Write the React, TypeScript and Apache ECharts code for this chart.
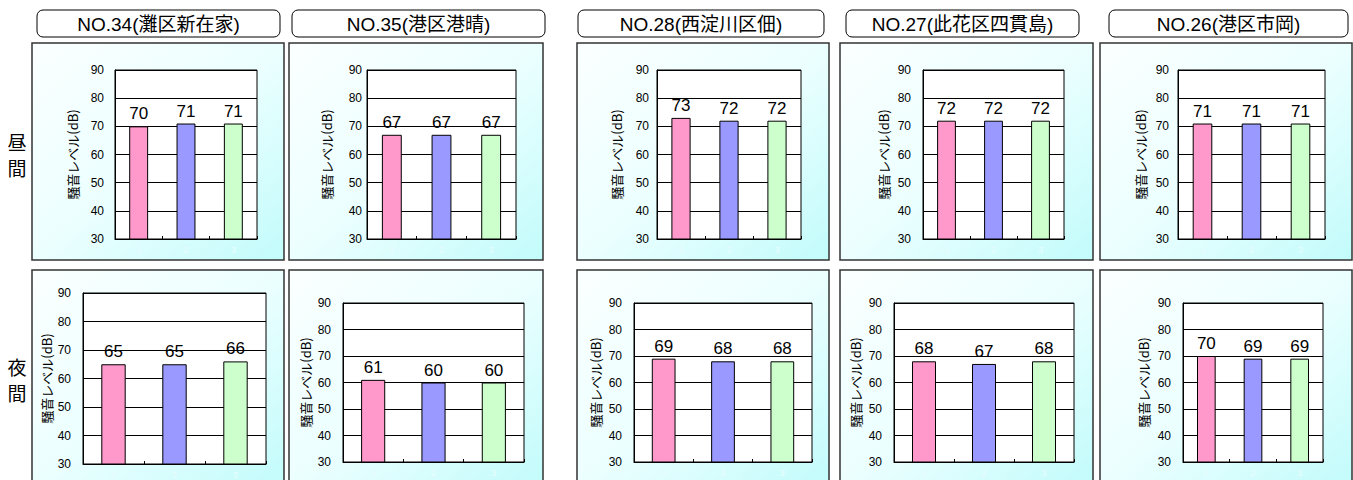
import React, { useEffect, useRef } from "react";
import * as echarts from "echarts";

// ---- data ----
const stations = [
  "NO.34(灘区新在家)",
  "NO.35(港区港晴)",
  "NO.28(西淀川区佃)",
  "NO.27(此花区四貫島)",
  "NO.26(港区市岡)",
];
const categories = ["1", "2", "3"];
const dayValues = [
  [70, 71, 71],
  [67, 67, 67],
  [73, 72, 72],
  [72, 72, 72],
  [71, 71, 71],
];
const nightValues = [
  [65, 65, 66],
  [61, 60, 60],
  [69, 68, 68],
  [68, 67, 68],
  [70, 69, 69],
];
const rowLabels = [
  ["昼", "間"],
  ["夜", "間"],
];
const axisName = "騒音レベル(dB)";
const yMin = 30;
const yMax = 90;
const yInterval = 10;

// ---- layout / style ----
const barColors = ["#FF99CC", "#9999FF", "#CCFFCC"];
const frameX = [
  [32, 284],
  [289, 543],
  [577, 829],
  [840, 1093],
  [1100, 1352],
];
const titleX = [
  [37, 280],
  [292, 545],
  [578, 824],
  [846, 1079],
  [1109, 1348],
];
// [left, right, top, bottom]
const dayPlots = [
  [115, 257, 70, 239],
  [367, 516, 70, 239],
  [657, 801, 70, 239],
  [923, 1064, 70, 239],
  [1178, 1325, 70, 239],
];
const nightPlots = [
  [83, 266, 293, 464],
  [343, 524, 303, 462],
  [634, 812, 303, 462],
  [894, 1074, 303, 462],
  [1183, 1323, 303, 462],
];
const dayLabelMargin = [11, 5, 8, 12, 9];
const nightLabelMargin = [12, 12, 12, 12, 12];
const dayNameGap = [36, 34, 34, 33, 31];
const nightNameGap = [30, 31, 32, 32, 33];
const rowLabelY = [
  [141, 167],
  [366, 392],
];

const latin = "'Liberation Sans', Arial, 'Noto Sans CJK JP', sans-serif";
const cjk = "'Noto Sans CJK JP', 'Liberation Sans', sans-serif";

function buildOption() {
  const grid: any[] = [];
  const xAxis: any[] = [];
  const yAxis: any[] = [];
  const series: any[] = [];
  const rows = [
    { plots: dayPlots, values: dayValues, margins: dayLabelMargin, gaps: dayNameGap },
    { plots: nightPlots, values: nightValues, margins: nightLabelMargin, gaps: nightNameGap },
  ];
  rows.forEach((row) => {
    row.plots.forEach((p, i) => {
      const idx = grid.length;
      grid.push({
        left: p[0],
        top: p[2],
        width: p[1] - p[0],
        height: p[3] - p[2],
        show: true,
        backgroundColor: "#ffffff",
        borderColor: "#000000",
        borderWidth: 1,
        containLabel: false,
      });
      xAxis.push({
        type: "category",
        gridIndex: idx,
        data: categories,
        axisLine: { show: true, lineStyle: { color: "#000", width: 1 } },
        axisTick: { show: true, inside: true, length: 3, lineStyle: { color: "#000" } },
        axisLabel: { color: "#eafcfc", fontSize: 9, margin: 6, fontFamily: latin },
        splitLine: { show: false },
      });
      yAxis.push({
        type: "value",
        gridIndex: idx,
        min: yMin,
        max: yMax,
        interval: yInterval,
        name: axisName,
        nameLocation: "middle",
        nameRotate: 90,
        nameGap: row.gaps[i],
        nameTextStyle: { fontSize: 13, color: "#000", fontFamily: cjk },
        axisLine: { show: true, lineStyle: { color: "#000", width: 1 } },
        axisTick: { show: false },
        axisLabel: { color: "#000", fontSize: 12, margin: row.margins[i], fontFamily: latin },
        splitLine: { show: true, lineStyle: { color: "#000", width: 1 } },
      });
      series.push({
        type: "bar",
        xAxisIndex: idx,
        yAxisIndex: idx,
        barWidth: "40%",
        data: row.values[i].map((v, k) => ({
          value: v,
          itemStyle: { color: barColors[k], borderColor: "#000", borderWidth: 1 },
        })),
        label: {
          show: true,
          position: "top",
          distance: 4,
          color: "#000",
          fontSize: 17,
          fontFamily: latin,
        },
      });
    });
  });

  const gradient = () =>
    new echarts.graphic.LinearGradient(0, 0, 1, 1, [
      { offset: 0, color: "#fbffff" },
      { offset: 0.5, color: "#ecffff" },
      { offset: 1, color: "#c2fbfb" },
    ]);

  const graphic: any[] = [];
  frameX.forEach((f) => {
    graphic.push({
      type: "rect",
      z: -10,
      shape: { x: f[0], y: 43, width: f[1] - f[0], height: 217 },
      style: { fill: gradient(), stroke: "#333", lineWidth: 1.5 },
    });
    graphic.push({
      type: "rect",
      z: -10,
      shape: { x: f[0], y: 270, width: f[1] - f[0], height: 215 },
      style: { fill: gradient(), stroke: "#333", lineWidth: 1.5 },
    });
  });
  titleX.forEach((t, i) => {
    graphic.push({
      type: "rect",
      z: -5,
      shape: { x: t[0], y: 10, width: t[1] - t[0], height: 27, r: 6 },
      style: { fill: "#fff", stroke: "#000", lineWidth: 1 },
    });
    graphic.push({
      type: "text",
      z: -4,
      x: (t[0] + t[1]) / 2,
      y: 24,
      style: {
        text: stations[i],
        fontSize: 19,
        fontFamily: latin,
        fill: "#000",
        textAlign: "center",
        textVerticalAlign: "middle",
      },
    });
  });
  rowLabels.forEach((chars, r) => {
    chars.forEach((ch, k) => {
      graphic.push({
        type: "text",
        x: 17,
        y: rowLabelY[r][k],
        style: {
          text: ch,
          fontSize: 19,
          fontFamily: cjk,
          fill: "#000",
          textAlign: "center",
          textVerticalAlign: "middle",
        },
      });
    });
  });

  return { animation: false, grid, xAxis, yAxis, series, graphic };
}

export default function App() {
  const ref = useRef<HTMLDivElement>(null);
  useEffect(() => {
    if (!ref.current) return;
    const chart = echarts.init(ref.current, undefined, { renderer: "svg" });
    chart.setOption(buildOption() as any);
    return () => chart.dispose();
  }, []);
  return (
    <div
      ref={ref}
      style={{ position: "absolute", left: 0, top: 0, width: 1353, height: 480, background: "#fff" }}
    />
  );
}
